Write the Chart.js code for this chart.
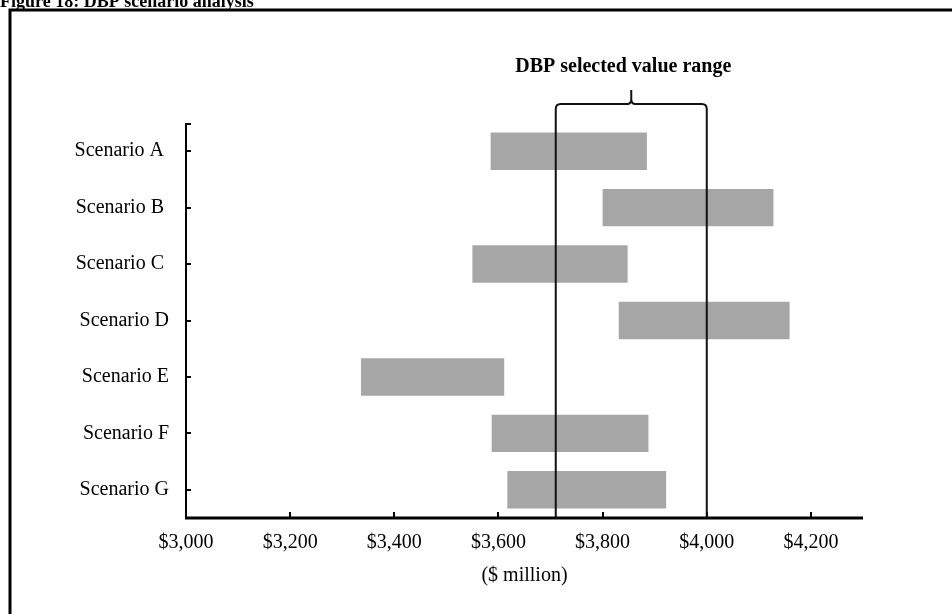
<!DOCTYPE html>
<html><head><meta charset="utf-8">
<script src="https://cdn.jsdelivr.net/npm/chart.js@4.4.1/dist/chart.umd.min.js"></script>
<style>html,body{margin:0;padding:0;background:#fff;overflow:hidden}#wrap{position:relative;width:952px;height:614px}</style>
</head><body><div id="wrap"><canvas id="c" width="952" height="614"></canvas></div>
<script>
const categories = ['Scenario A ', 'Scenario B ', 'Scenario C ', 'Scenario D', 'Scenario E', 'Scenario F', 'Scenario G'];
const lowValues  = [3585, 3800, 3550, 3831, 3336, 3587, 3617];
const highValues = [3885, 4128, 3848, 4159, 3611, 3888, 3922];
const axisTicks = [3000, 3200, 3400, 3600, 3800, 4000, 4200];
const axisMin = 3000;
const axisMax = 4300;
const selectedRange = [3710, 4000];
const titleText = 'Figure 18: DBP scenario analysis';
const rangeLabel = 'DBP selected value range';
const axisTitle = '($ million)';

const FONT = '"Liberation Serif", "Times New Roman", serif';

const overlay = {
  id: 'overlay',
  afterDraw(chart) {
    const {ctx, chartArea: a, scales: {x, y}} = chart;
    ctx.save();
    ctx.strokeStyle = '#000';
    ctx.fillStyle = '#000';
    // outer frame (left & top visible)
    ctx.lineWidth = 3;
    ctx.beginPath(); ctx.moveTo(10, 700); ctx.lineTo(10, 10); ctx.lineTo(1000, 10); ctx.stroke();
    // figure title (cut at top)
    ctx.font = 'bold 18px ' + FONT;
    ctx.textAlign = 'left'; ctx.textBaseline = 'alphabetic';
    ctx.fillText(titleText, 0, 6.5);
    // axes
    ctx.lineWidth = 2;
    ctx.beginPath(); ctx.moveTo(a.left, a.top); ctx.lineTo(a.left, a.bottom); ctx.stroke();
    ctx.lineWidth = 3;
    ctx.beginPath(); ctx.moveTo(a.left - 1, a.bottom); ctx.lineTo(a.right, a.bottom); ctx.stroke();
    // x ticks (inward)
    ctx.lineWidth = 2;
    axisTicks.forEach(v => {
      const px = Math.round(x.getPixelForValue(v));
      ctx.beginPath(); ctx.moveTo(px, a.bottom); ctx.lineTo(px, a.bottom - 6); ctx.stroke();
    });
    // y ticks (inward)
    categories.forEach((c, i) => {
      const py = Math.round(y.getPixelForValue(i));
      ctx.beginPath(); ctx.moveTo(a.left, py); ctx.lineTo(a.left + 5, py); ctx.stroke();
    });
    ctx.beginPath(); ctx.moveTo(a.left, a.top + 1); ctx.lineTo(a.left + 5, a.top + 1); ctx.stroke();
    // axis title
    ctx.font = '20px ' + FONT;
    ctx.textAlign = 'center'; ctx.textBaseline = 'middle';
    ctx.fillText(axisTitle, (a.left + a.right) / 2, 576);
    // selected range lines with brace
    const xl = x.getPixelForValue(selectedRange[0]);
    const xr = x.getPixelForValue(selectedRange[1]);
    const cx = (xl + xr) / 2;
    const by = 104, r = 5, tip = 90;
    ctx.strokeStyle = '#111';
    ctx.lineWidth = 2;
    ctx.beginPath();
    ctx.moveTo(xl, a.bottom);
    ctx.lineTo(xl, by + r);
    ctx.quadraticCurveTo(xl, by, xl + r, by);
    ctx.lineTo(cx - 4, by);
    ctx.quadraticCurveTo(cx, by, cx, by - 5);
    ctx.lineTo(cx, tip);
    ctx.moveTo(cx, by - 5);
    ctx.quadraticCurveTo(cx, by, cx + 4, by);
    ctx.lineTo(xr - r, by);
    ctx.quadraticCurveTo(xr, by, xr, by + r);
    ctx.lineTo(xr, a.bottom);
    ctx.stroke();
    // label
    ctx.font = 'bold 20px ' + FONT;
    ctx.textAlign = 'center'; ctx.textBaseline = 'alphabetic';
    ctx.fillText(rangeLabel, cx - 8, 72);
    ctx.restore();
  }
};

new Chart(document.getElementById('c'), {
  type: 'bar',
  data: {
    labels: categories,
    datasets: [{
      data: lowValues.map((l, i) => [l, highValues[i]]),
      backgroundColor: '#a6a6a6',
      borderWidth: 0,
      borderSkipped: false,
      barPercentage: 0.663,
      categoryPercentage: 1
    }]
  },
  options: {
    indexAxis: 'y',
    responsive: false,
    animation: false,
    devicePixelRatio: 1,
    layout: {padding: {top: 123, right: 89, left: 0, bottom: 0}},
    plugins: {legend: {display: false}, title: {display: false}, tooltip: {enabled: false}},
    scales: {
      x: {
        type: 'linear', min: axisMin, max: axisMax,
        grid: {display: false, drawTicks: false}, border: {display: false},
        afterBuildTicks: s => { s.ticks = axisTicks.map(v => ({value: v})); },
        afterFit: s => { s.height = 96; },
        ticks: {
          color: '#000', padding: 13, maxRotation: 0, autoSkip: false,
          font: {family: FONT, size: 20},
          callback: v => '$' + Number(v).toLocaleString('en-US')
        }
      },
      y: {
        type: 'category',
        grid: {display: false, drawTicks: false}, border: {display: false},
        afterFit: s => { s.width = 186; },
        ticks: {color: '#000', padding: 17, font: {family: FONT, size: 20}}
      }
    }
  },
  plugins: [overlay]
});
</script></body></html>
